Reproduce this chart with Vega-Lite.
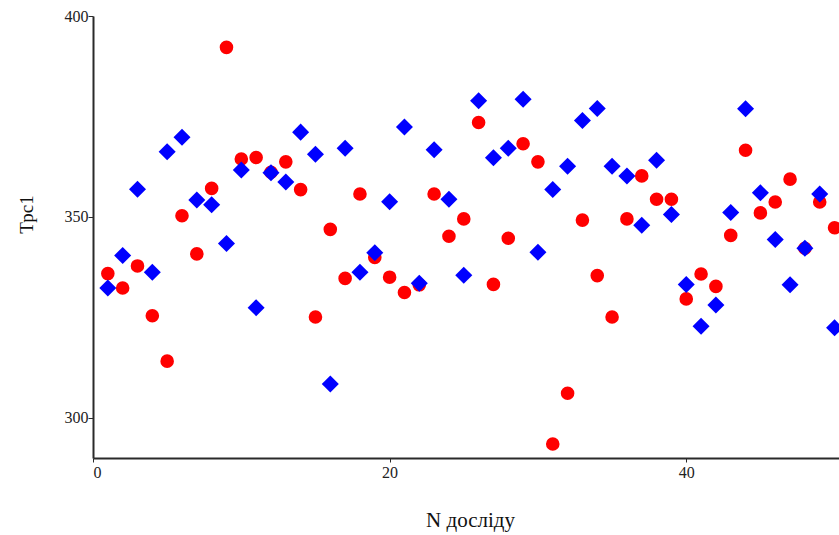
{
  "$schema": "https://vega.github.io/schema/vega-lite/v6.json",
  "width": 746,
  "height": 442,
  "autosize": {"type": "none"},
  "padding": {"left": 93, "top": 16, "right": 0, "bottom": 77},
  "background": "white",
  "config": {
    "view": {"stroke": null},
    "font": "Liberation Serif"
  },
  "data": {
    "values": [
      {"n": 1, "series": "red", "value": 335.9}, {"n": 1, "series": "blue", "value": 332.3},
      {"n": 2, "series": "red", "value": 332.3}, {"n": 2, "series": "blue", "value": 340.4},
      {"n": 3, "series": "red", "value": 337.8}, {"n": 3, "series": "blue", "value": 356.9},
      {"n": 4, "series": "red", "value": 325.4}, {"n": 4, "series": "blue", "value": 336.2},
      {"n": 5, "series": "red", "value": 314.1}, {"n": 5, "series": "blue", "value": 366.2},
      {"n": 6, "series": "red", "value": 350.3}, {"n": 6, "series": "blue", "value": 369.8},
      {"n": 7, "series": "red", "value": 340.8}, {"n": 7, "series": "blue", "value": 354.2},
      {"n": 8, "series": "red", "value": 357.1}, {"n": 8, "series": "blue", "value": 353.0},
      {"n": 9, "series": "red", "value": 392.2}, {"n": 9, "series": "blue", "value": 343.4},
      {"n": 10, "series": "red", "value": 364.4}, {"n": 10, "series": "blue", "value": 361.7},
      {"n": 11, "series": "red", "value": 364.8}, {"n": 11, "series": "blue", "value": 327.4},
      {"n": 12, "series": "red", "value": 361.1}, {"n": 12, "series": "blue", "value": 361.0},
      {"n": 13, "series": "red", "value": 363.7}, {"n": 13, "series": "blue", "value": 358.7},
      {"n": 14, "series": "red", "value": 356.8}, {"n": 14, "series": "blue", "value": 371.1},
      {"n": 15, "series": "red", "value": 325.1}, {"n": 15, "series": "blue", "value": 365.6},
      {"n": 16, "series": "red", "value": 346.9}, {"n": 16, "series": "blue", "value": 308.4},
      {"n": 17, "series": "red", "value": 334.7}, {"n": 17, "series": "blue", "value": 367.1},
      {"n": 18, "series": "red", "value": 355.7}, {"n": 18, "series": "blue", "value": 336.2},
      {"n": 19, "series": "red", "value": 339.9}, {"n": 19, "series": "blue", "value": 341.1},
      {"n": 20, "series": "red", "value": 335.0}, {"n": 20, "series": "blue", "value": 353.8},
      {"n": 21, "series": "red", "value": 331.2}, {"n": 21, "series": "blue", "value": 372.4},
      {"n": 22, "series": "red", "value": 333.1}, {"n": 22, "series": "blue", "value": 333.5},
      {"n": 23, "series": "red", "value": 355.7}, {"n": 23, "series": "blue", "value": 366.7},
      {"n": 24, "series": "red", "value": 345.2}, {"n": 24, "series": "blue", "value": 354.4},
      {"n": 25, "series": "red", "value": 349.5}, {"n": 25, "series": "blue", "value": 335.5},
      {"n": 26, "series": "red", "value": 373.5}, {"n": 26, "series": "blue", "value": 378.9},
      {"n": 27, "series": "red", "value": 333.2}, {"n": 27, "series": "blue", "value": 364.7},
      {"n": 28, "series": "red", "value": 344.7}, {"n": 28, "series": "blue", "value": 367.1},
      {"n": 29, "series": "red", "value": 368.2}, {"n": 29, "series": "blue", "value": 379.3},
      {"n": 30, "series": "red", "value": 363.7}, {"n": 30, "series": "blue", "value": 341.2},
      {"n": 31, "series": "red", "value": 293.5}, {"n": 31, "series": "blue", "value": 356.8},
      {"n": 32, "series": "red", "value": 306.1}, {"n": 32, "series": "blue", "value": 362.6},
      {"n": 33, "series": "red", "value": 349.2}, {"n": 33, "series": "blue", "value": 374.0},
      {"n": 34, "series": "red", "value": 335.4}, {"n": 34, "series": "blue", "value": 377.0},
      {"n": 35, "series": "red", "value": 325.1}, {"n": 35, "series": "blue", "value": 362.6},
      {"n": 36, "series": "red", "value": 349.5}, {"n": 36, "series": "blue", "value": 360.2},
      {"n": 37, "series": "red", "value": 360.2}, {"n": 37, "series": "blue", "value": 347.9},
      {"n": 38, "series": "red", "value": 354.4}, {"n": 38, "series": "blue", "value": 364.1},
      {"n": 39, "series": "red", "value": 354.4}, {"n": 39, "series": "blue", "value": 350.6},
      {"n": 40, "series": "red", "value": 329.6}, {"n": 40, "series": "blue", "value": 333.2},
      {"n": 41, "series": "red", "value": 335.8}, {"n": 41, "series": "blue", "value": 322.8},
      {"n": 42, "series": "red", "value": 332.7}, {"n": 42, "series": "blue", "value": 328.1},
      {"n": 43, "series": "red", "value": 345.4}, {"n": 43, "series": "blue", "value": 351.1},
      {"n": 44, "series": "red", "value": 366.6}, {"n": 44, "series": "blue", "value": 376.9},
      {"n": 45, "series": "red", "value": 351.0}, {"n": 45, "series": "blue", "value": 356.0},
      {"n": 46, "series": "red", "value": 353.7}, {"n": 46, "series": "blue", "value": 344.4},
      {"n": 47, "series": "red", "value": 359.4}, {"n": 47, "series": "blue", "value": 333.1},
      {"n": 48, "series": "red", "value": 342.2}, {"n": 48, "series": "blue", "value": 342.2},
      {"n": 49, "series": "red", "value": 353.7}, {"n": 49, "series": "blue", "value": 355.7},
      {"n": 50, "series": "red", "value": 347.3}, {"n": 50, "series": "blue", "value": 322.4}
    ]
  },
  "encoding": {
    "x": {
      "field": "n",
      "type": "quantitative",
      "scale": {"domain": [0, 50.3], "nice": false, "zero": false},
      "axis": {
        "title": "N досліду",
        "values": [0, 20, 40],
        "grid": false,
        "domainColor": "#2a2a2a",
        "domainWidth": 2,
        "tickColor": "#2a2a2a",
        "tickSize": 4,
        "labelColor": "#222",
        "labelFont": "Liberation Serif",
        "labelFontSize": 16,
        "labelDx": 4,
        "labelPadding": 2,
        "titleFont": "Liberation Serif",
        "titleFontSize": 21,
        "titleFontWeight": "normal",
        "titleColor": "#111",
        "titleX": 377,
        "titleY": 62,
        "titleBaseline": "middle"
      }
    },
    "y": {
      "field": "value",
      "type": "quantitative",
      "scale": {"domain": [290, 400], "nice": false, "zero": false},
      "axis": {
        "title": "Трс1",
        "values": [300, 350, 400],
        "grid": false,
        "domainColor": "#2a2a2a",
        "domainWidth": 2,
        "tickColor": "#2a2a2a",
        "tickSize": 5,
        "labelColor": "#222",
        "labelFont": "Liberation Serif",
        "labelFontSize": 16,
        "labelPadding": 0,
        "titleFont": "Liberation Serif",
        "titleFontSize": 19,
        "titleFontWeight": "normal",
        "titleColor": "#111",
        "titleX": -67,
        "titleY": 198,
        "titleBaseline": "middle"
      }
    }
  },
  "layer": [
    {
      "transform": [{"filter": "datum.series === 'red'"}],
      "mark": {"type": "point", "shape": "circle", "filled": true, "color": "#ff0000", "opacity": 1, "size": 185, "clip": true}
    },
    {
      "transform": [{"filter": "datum.series === 'blue'"}],
      "mark": {"type": "point", "shape": "diamond", "filled": true, "color": "#0000ff", "opacity": 1, "size": 290, "clip": true}
    }
  ]
}
